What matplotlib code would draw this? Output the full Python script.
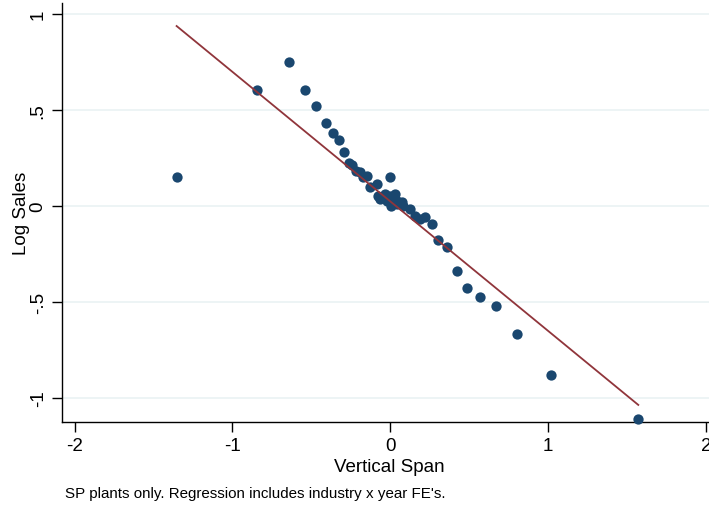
import matplotlib.pyplot as plt
import numpy as np

# binned scatter: vertical span vs log sales
span = [-1.354, -0.842, -0.639, -0.538, -0.468, -0.405, -0.361, -0.323, -0.291, -0.259,
        -0.241, -0.215, -0.190, -0.171, -0.146, -0.127, -0.082, 0.000, -0.076, -0.063,
        -0.032, -0.019, 0.000, 0.019, 0.032, 0.044, 0.006, 0.044, 0.076, 0.082,
        0.127, 0.158, 0.190, 0.222, 0.266, 0.304, 0.361, 0.424, 0.487, 0.570,
        0.671, 0.804, 1.019, 1.570]
log_sales = [0.151, 0.604, 0.750, 0.604, 0.521, 0.432, 0.380, 0.344, 0.281, 0.224,
             0.214, 0.182, 0.177, 0.151, 0.156, 0.099, 0.115, 0.151, 0.052, 0.036,
             0.063, 0.026, 0.052, 0.036, 0.063, 0.026, 0.000, 0.010, 0.021, 0.000,
             -0.016, -0.052, -0.068, -0.057, -0.094, -0.177, -0.214, -0.339, -0.427, -0.474,
             -0.521, -0.667, -0.880, -1.110]

# fitted line
fit_x = [-1.354, 1.570]
fit_y = [0.9375, -1.036]

x_ticks = [-2, -1, 0, 1, 2]
x_labels = ["-2", "-1", "0", "1", "2"]
y_ticks = [-1, -0.5, 0, 0.5, 1]
y_labels = ["-1", "-.5", "0", ".5", "1"]

plt.rcParams['font.family'] = ['Liberation Sans', 'DejaVu Sans']

fig = plt.figure(figsize=(7.09, 5.10), dpi=100)
ax = fig.add_axes([0.0874, 0.1706, 0.922, 0.8214])

ax.set_xlim(-2.08, 2.06)
ax.set_ylim(-1.125, 1.057)

for yt in y_ticks:
    ax.axhline(yt, color='#eaf2f3', lw=1.2, zorder=0)

ax.scatter(span, log_sales, s=55, color='#1a476f', zorder=3, linewidths=0, clip_on=False)
ax.plot(fit_x, fit_y, color='#90353b', lw=1.3, zorder=4)

ax.spines['top'].set_visible(False)
ax.spines['right'].set_visible(False)
ax.spines['left'].set_linewidth(1.0)
ax.spines['bottom'].set_linewidth(1.0)

ax.set_xticks(x_ticks, labels=x_labels)
ax.set_yticks(y_ticks, labels=y_labels)
ax.tick_params(axis='both', length=7, width=1.0, labelsize=13.5, pad=4)
plt.setp(ax.get_yticklabels(), rotation=90, va='center')

ax.set_xlabel("Vertical Span", fontsize=13.5, labelpad=3)
ax.set_ylabel("Log Sales", fontsize=13.5, labelpad=0)

fig.text(65 / 709, 1 - 494 / 510, "SP plants only. Regression includes industry x year FE's.",
         fontsize=10.9, va='center', ha='left')

fig.savefig("out.png", dpi=100)
